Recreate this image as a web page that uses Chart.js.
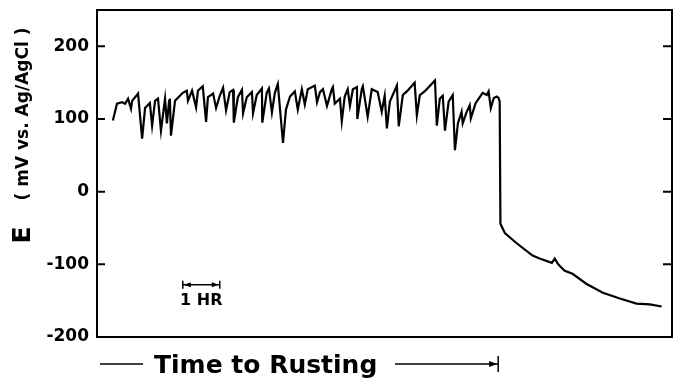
<!DOCTYPE html>
<html>
<head>
<meta charset="utf-8">
<script src="https://cdn.jsdelivr.net/npm/chart.js@4"></script>
<style>
  html, body { margin: 0; padding: 0; background: #fff; }
  canvas { display: block; }
</style>
</head>
<body>
<canvas id="myChart" width="685" height="386"></canvas>
<script>
// time (hours) and potential (mV vs. Ag/AgCl)
const timeHr = [
  0.43, 0.54, 0.68, 0.76, 0.84, 0.92, 0.95, 1.11, 1.22, 1.30,
  1.43, 1.49, 1.57, 1.65, 1.73, 1.84, 1.89, 1.95, 1.97, 2.00,
  2.11, 2.32, 2.43, 2.46, 2.57, 2.68, 2.73, 2.86, 2.95, 3.00,
  3.14, 3.22, 3.32, 3.41, 3.49, 3.59, 3.68, 3.70, 3.81, 3.92,
  3.95, 4.05, 4.19, 4.22, 4.32, 4.46, 4.47, 4.59, 4.65, 4.73,
  4.81, 4.89, 5.03, 5.11, 5.22, 5.35, 5.43, 5.54, 5.62, 5.70,
  5.89, 5.95, 6.03, 6.11, 6.22, 6.35, 6.38, 6.43, 6.49, 6.57,
  6.62, 6.70, 6.78, 6.84, 6.92, 7.03, 7.04, 7.16, 7.19, 7.32,
  7.43, 7.59, 7.70, 7.78, 7.84, 7.92, 8.11, 8.16, 8.27, 8.38,
  8.59, 8.65, 8.73, 8.86, 9.14, 9.19, 9.27, 9.35, 9.41, 9.51,
  9.62, 9.68, 9.76, 9.86, 9.89, 10.00, 10.08, 10.11, 10.24, 10.43,
  10.54, 10.59, 10.65, 10.73, 10.81, 10.86, 10.89, 10.91, 11.03,
  11.35, 11.78, 11.97, 12.30, 12.38, 12.46, 12.51, 12.65, 12.86, 13.24,
  13.68, 14.14, 14.59, 14.95, 15.27
];
const potential = [
  98, 121, 123, 121, 128, 114, 125, 135, 73, 115,
  122, 91, 125, 128, 84, 128, 94, 125, 128, 77,
  125, 136, 139, 125, 139, 116, 139, 145, 96, 130,
  135, 115, 132, 143, 112, 137, 140, 95, 130, 140,
  108, 130, 137, 108, 133, 142, 95, 136, 142, 109,
  136, 148, 67, 113, 131, 138, 113, 141, 120, 141,
  146, 123, 137, 141, 118, 141, 144, 121, 124, 128,
  97, 131, 141, 118, 141, 144, 100, 141, 145, 103,
  141, 137, 110, 132, 87, 124, 146, 90, 133, 138,
  150, 105, 133, 138, 153, 91, 128, 132, 84, 124,
  133, 57, 94, 110, 94, 110, 119, 101, 122, 136,
  133, 138, 115, 129, 131, 129, 124, -44, -57,
  -71, -88, -92, -98, -92, -99, -102, -109, -113, -127,
  -139, -147, -154, -155, -158
];

const yTicks = [-200, -100, 0, 100, 200];
const yMin = -200;
const yMax = 250;
const xMax = 15.55;
const rustTime = 10.85;     // end of "Time to Rusting" arrow
const hourBar = [2.32, 3.32]; // 1 HR scale bar
const hourBarE = -128;

const points = timeHr.map((t, i) => ({ x: t, y: potential[i] }));

// frame, inward ticks, axis titles and annotations
const decorPlugin = {
  id: "decor",
  afterDraw(chart) {
    const c = chart.ctx;
    const a = chart.chartArea;
    const xs = chart.scales.x;
    const ys = chart.scales.y;
    c.save();
    c.strokeStyle = "#000";
    c.fillStyle = "#000";
    c.lineWidth = 2;
    c.strokeRect(a.left, a.top, a.right - a.left, a.bottom - a.top);

    // ticks pointing into the plot on both sides
    yTicks.forEach((v) => {
      const py = ys.getPixelForValue(v);
      c.beginPath();
      c.moveTo(a.left, py);
      c.lineTo(a.left + 8, py);
      c.moveTo(a.right, py);
      c.lineTo(a.right - 9, py);
      c.stroke();
    });

    // y title: big E plus units
    c.save();
    c.translate(24, 114);
    c.rotate(-Math.PI / 2);
    c.textAlign = "center";
    c.textBaseline = "middle";
    c.font = "bold 17px 'DejaVu Sans'";
    c.fillText("( mV vs. Ag/AgCl )", 0, 0);
    c.restore();
    c.save();
    c.translate(23, 235);
    c.rotate(-Math.PI / 2);
    c.textAlign = "center";
    c.textBaseline = "middle";
    c.font = "bold 25px 'DejaVu Sans'";
    c.fillText("E", 0, 0);
    c.restore();

    // 1 HR scale bar
    const bx0 = xs.getPixelForValue(hourBar[0]);
    const bx1 = xs.getPixelForValue(hourBar[1]);
    const by = ys.getPixelForValue(hourBarE);
    c.lineWidth = 1.5;
    c.beginPath();
    c.moveTo(bx0, by);
    c.lineTo(bx1, by);
    c.moveTo(bx0, by - 4);
    c.lineTo(bx0, by + 4);
    c.moveTo(bx1, by - 4);
    c.lineTo(bx1, by + 4);
    c.stroke();
    c.beginPath();
    c.moveTo(bx0 + 1, by);
    c.lineTo(bx0 + 8, by - 2.5);
    c.lineTo(bx0 + 8, by + 2.5);
    c.closePath();
    c.moveTo(bx1 - 1, by);
    c.lineTo(bx1 - 8, by - 2.5);
    c.lineTo(bx1 - 8, by + 2.5);
    c.closePath();
    c.fill();
    c.font = "bold 16px 'DejaVu Sans'";
    c.textAlign = "center";
    c.textBaseline = "alphabetic";
    c.fillText("1 HR", (bx0 + bx1) / 2, by + 20);

    // Time to Rusting arrow under the axis
    const ty = 364;
    const rx = xs.getPixelForValue(rustTime);
    c.lineWidth = 1.5;
    c.beginPath();
    c.moveTo(a.left + 3, ty);
    c.lineTo(a.left + 46, ty);
    c.moveTo(395, ty);
    c.lineTo(rx, ty);
    c.moveTo(rx, ty - 8);
    c.lineTo(rx, ty + 8);
    c.stroke();
    c.beginPath();
    c.moveTo(rx - 1, ty);
    c.lineTo(rx - 9, ty - 3);
    c.lineTo(rx - 9, ty + 3);
    c.closePath();
    c.fill();
    c.font = "bold 25px 'DejaVu Sans'";
    c.textAlign = "left";
    c.fillText("Time to Rusting", 154, ty + 9);
    c.restore();
  },
};

const ctx = document.getElementById("myChart").getContext("2d");

new Chart(ctx, {
  type: "line",
  data: {
    datasets: [
      {
        data: points,
        borderColor: "#000",
        borderWidth: 2.2,
        pointRadius: 0,
        tension: 0,
        fill: false,
      },
    ],
  },
  options: {
    responsive: false,
    animation: false,
    parsing: false,
    layout: { padding: { top: 10, right: 13, left: 0, bottom: 0 } },
    plugins: {
      legend: { display: false },
      tooltip: { enabled: false },
    },
    scales: {
      x: {
        type: "linear",
        min: 0,
        max: xMax,
        grid: { display: false },
        border: { display: false },
        ticks: { display: false },
        afterFit(scale) {
          scale.height = 49;
          scale.paddingLeft = 0;
          scale.paddingRight = 0;
        },
      },
      y: {
        type: "linear",
        min: yMin,
        max: yMax,
        grid: { display: false, drawTicks: false },
        border: { display: false },
        afterBuildTicks(scale) {
          scale.ticks = yTicks.map((v) => ({ value: v }));
        },
        ticks: {
          color: "#000",
          padding: 8,
          font: { family: "'DejaVu Sans'", weight: "bold", size: 17 },
        },
        afterFit(scale) {
          scale.width = 97;
          scale.paddingTop = 0;
          scale.paddingBottom = 0;
        },
      },
    },
  },
  plugins: [decorPlugin],
});
</script>
</body>
</html>
